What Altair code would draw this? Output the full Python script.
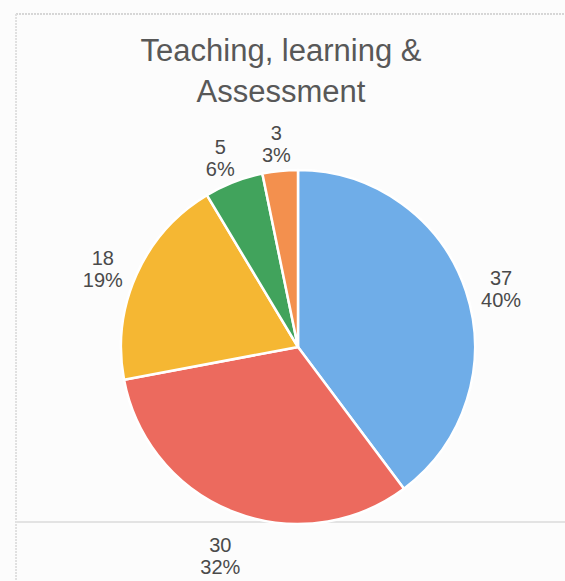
import altair as alt
import pandas as pd

# Survey responses for "Teaching, learning & Assessment"
counts = [37, 30, 18, 5, 3]
percent_labels = ["40%", "32%", "19%", "6%", "3%"]
slice_colors = ["#6FADE8", "#EC6A5E", "#F5B733", "#41A35C", "#F3904E"]
title_lines = ["Teaching, learning &", "Assessment"]

df = pd.DataFrame({
    "idx": list(range(len(counts))),
    "count": counts,
    "pct": percent_labels,
    "color": slice_colors,
})

CX, CY = 298, 347

base = alt.Chart(df).encode(
    theta=alt.Theta("count:Q", stack=True),
    order=alt.Order("idx:O", sort="ascending"),
    x=alt.value(CX),
    y=alt.value(CY),
)

slices = base.mark_arc(outerRadius=177, stroke="white", strokeWidth=2.5).encode(
    color=alt.Color("color:N", scale=None),
)

labels = base.transform_calculate(
    label="datum.count + '\\n' + datum.pct"
).mark_text(
    radius=214,
    fontSize=20,
    font="Liberation Sans",
    color="#4A4A4A",
    lineBreak="\n",
    lineHeight=22,
    align="center",
    baseline="middle",
).encode(text="label:N")

title_df = pd.DataFrame({"line": title_lines, "row": [0, 1]})
title = alt.Chart(title_df).mark_text(
    fontSize=31,
    font="Liberation Sans",
    color="#585858",
    align="center",
    baseline="alphabetic",
).encode(
    x=alt.value(281),
    y=alt.Y("row:Q", axis=None, scale=alt.Scale(domain=[0, 1], range=[61, 102])),
    text="line:N",
)

# faint frame lines of the surrounding sheet
frame_top = alt.Chart(df).mark_rule(color="#D5D5D5", strokeDash=[2, 1], strokeWidth=1).encode(
    x=alt.value(16), x2=alt.value(565), y=alt.value(14)
)
frame_left = alt.Chart(df).mark_rule(color="#E0E0E0", strokeDash=[2, 1], strokeWidth=1).encode(
    x=alt.value(16), y=alt.value(14), y2=alt.value(581)
)
frame_mid = alt.Chart(df).mark_rule(color="#E3E3E3", strokeWidth=1.5).encode(
    x=alt.value(16), x2=alt.value(565), y=alt.value(522)
)

chart = alt.layer(frame_top, frame_left, frame_mid, slices, labels, title).properties(
    width=565,
    height=581,
    background="#FCFCFC",
    padding=0,
    autosize=alt.AutoSizeParams(type="none"),
).configure_view(stroke=None)

chart.save("out.html", embed_options={"renderer": "svg", "actions": False})
